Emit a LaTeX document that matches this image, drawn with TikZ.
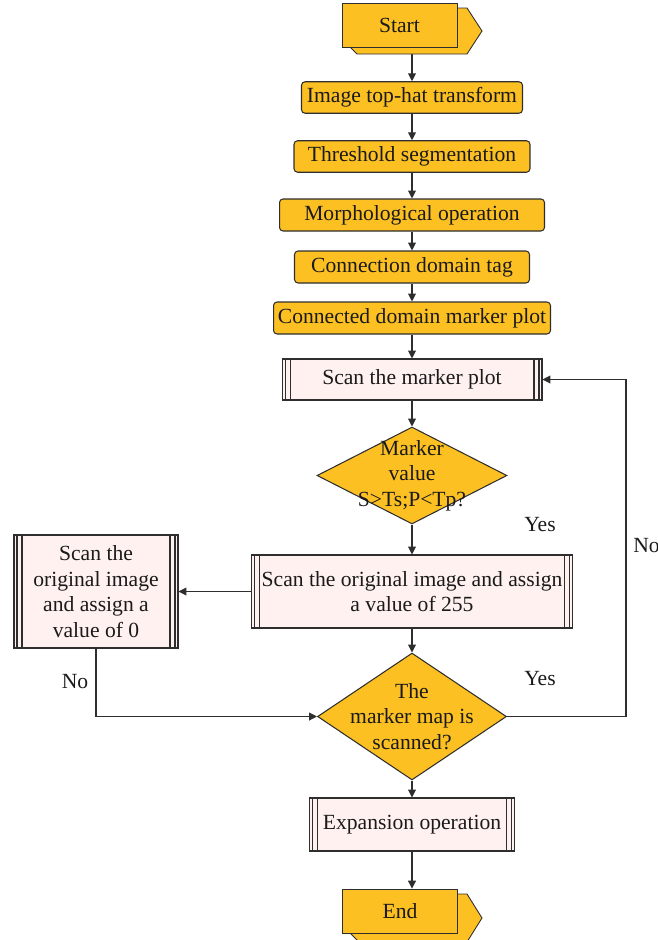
\documentclass[tikz,border=0pt]{standalone}
\usepackage{fontspec}
\setmainfont{Liberation Serif}
\usetikzlibrary{shapes.geometric, arrows.meta, backgrounds}
\definecolor{fcOrange}{HTML}{FCC023}
\definecolor{fcPink}{HTML}{FFF1F0}
\definecolor{fcLine}{HTML}{2E2E2E}
\definecolor{fcInk}{HTML}{1A1A1A}

\begin{document}
\begin{tikzpicture}[x=0.02cm, y=-0.02cm, font=\fontsize{12.3}{14.5}\selectfont,
        op/.style={draw=fcLine, line width=0.6pt, fill=fcOrange, rounded corners=2pt, text=fcInk, align=center, inner sep=0pt, minimum height=0.63cm},
        proc/.style={draw=fcLine, line width=0.6pt, fill=fcPink, text=fcInk, align=center, inner sep=0pt,
            path picture={\foreach \d in {0.06cm,0.16cm}{
                \draw[fcLine, line width=0.6pt] ([xshift=\d]path picture bounding box.north west) -- ([xshift=\d]path picture bounding box.south west);
                \draw[fcLine, line width=0.6pt] ([xshift=-\d]path picture bounding box.north east) -- ([xshift=-\d]path picture bounding box.south east);}}},
        decide/.style={diamond, draw=fcLine, line width=0.6pt, fill=fcOrange, text=fcInk, align=center, inner sep=-8pt},
        term/.style={draw=fcLine, line width=0.5pt, fill=fcOrange, text=fcInk, inner sep=0pt, minimum width=2.3cm, minimum height=0.88cm},
        flag/.style={draw=fcLine, line width=0.5pt, fill=fcOrange},
        arr/.style={-{Triangle[length=4.5pt, width=4.5pt]}, fcLine, line width=0.6pt},
        lbl/.style={text=fcInk, inner sep=0pt}]
        \useasboundingbox (0,0) rectangle (658,940);
        % terminals (back flag first)
        \draw[flag] (350,8) -- (467,8) -- (482,31) -- (467,54) -- (357,54) -- (350,47) -- cycle;
        \node[term] (start) at (399.5,25) {Start};
        \draw[flag] (350,894) -- (467,894) -- (482,918) -- (467,942) -- (359,942) -- (350,933) -- cycle;
        \node[term] (end) at (400,911) {End};
        % main column
        \node[op, minimum width=4.42cm] (tophat) at (412,97.5) {Image top-hat transform};
        \node[op, minimum width=4.72cm] (thresh) at (412,156.5) {Threshold segmentation};
        \node[op, minimum width=5.3cm, minimum height=0.64cm] (morph) at (412,215) {Morphological operation};
        \node[op, minimum width=4.7cm, minimum height=0.64cm] (tag) at (412,267) {Connection domain tag};
        \node[op, minimum width=5.54cm, minimum height=0.64cm] (markplot) at (412,318) {Connected domain marker plot};
        \node[proc, minimum width=5.2cm, minimum height=0.82cm] (scanplot) at (412,379.5) {Scan the marker plot};
        \node[decide, aspect=2, minimum width=3.8cm, minimum height=1.94cm] (value) at (412,475.5) {Marker\\value\\S>Ts;P<Tp?};
        \node[proc, minimum width=6.42cm, minimum height=1.46cm] (assign255) at (412,591.5) {Scan the original image and assign\\a value of 255};
        \node[proc, minimum width=3.28cm, minimum height=2.26cm] (assign0) at (96,591.5) {Scan the\\original image\\and assign a\\value of 0};
        \node[decide, aspect=1.5, minimum width=3.78cm, minimum height=2.54cm] (scanned) at (412,716.5) {The\\marker map is\\scanned?};
        \node[proc, minimum width=4.1cm, minimum height=1.06cm] (expand) at (412,824.5) {Expansion operation};
        \coordinate (loop) at (626,716.5);
        % labels
        \node[lbl] (yes1) at (540,525) {Yes};
        \node[lbl] (yes2) at (540,679) {Yes};
        \node[lbl] (no1) at (75,682) {No};
        \node[lbl, anchor=west] (no2) at (633,546) {No};
        % connectors
        \begin{scope}[on background layer]
        \draw[arr] (tophat.north |- start.south) -- (tophat);
        \draw[arr] (tophat) -- (thresh);
        \draw[arr] (thresh) -- (morph);
        \draw[arr] (morph) -- (tag);
        \draw[arr] (tag) -- (markplot);
        \draw[arr] (markplot) -- (scanplot);
        \draw[arr] (scanplot) -- (value);
        \draw[arr] (value) -- (assign255);
        \draw[arr] (assign255) -- (assign0);
        \draw[arr] (assign255) -- (scanned);
        \draw[arr] (assign0) |- (scanned);
        \draw[arr] (scanned) -- (loop) |- (scanplot);
        \draw[arr] (scanned) -- (expand);
        \draw[arr] (expand) -- (expand |- end.north);
        \end{scope}
      \end{tikzpicture}
\end{document}
